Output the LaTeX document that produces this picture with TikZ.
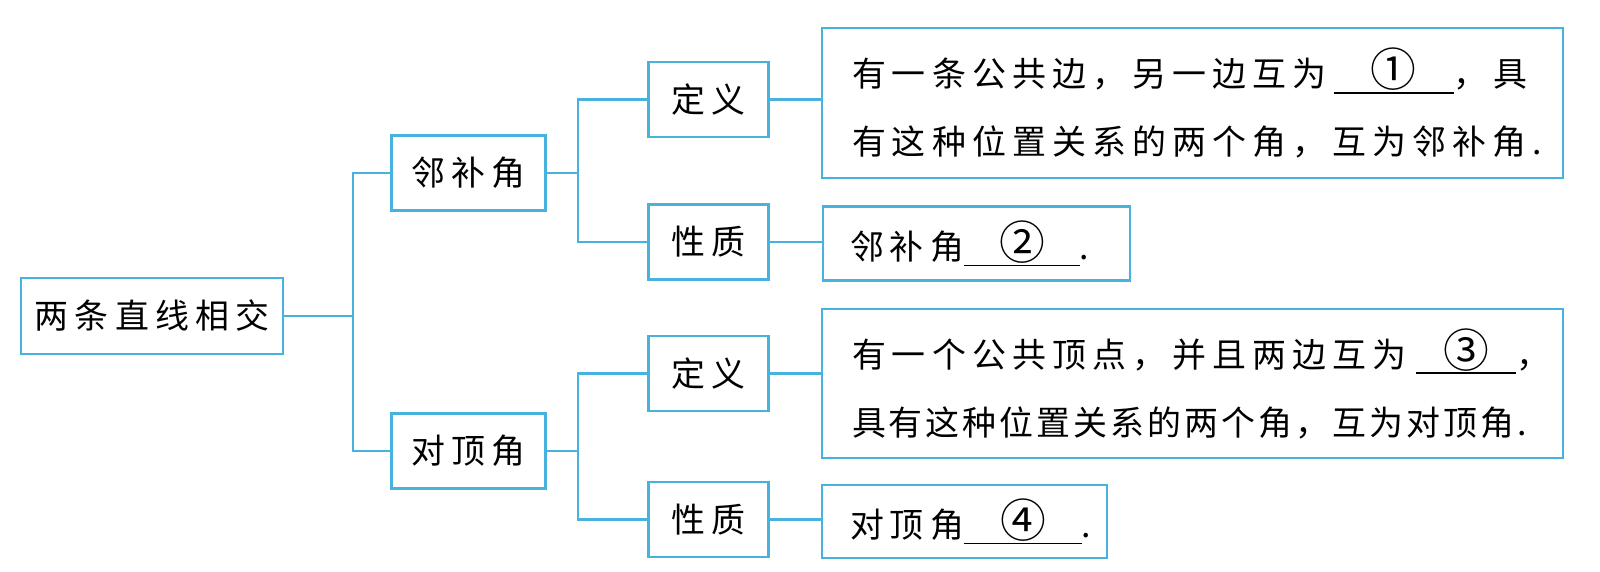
\documentclass[tikz,border=0pt]{standalone}
\usepackage{fontspec}
\newfontfamily\cjk[LetterSpace=18]{Noto Sans CJK SC}
\newfontfamily\cjknarrow[LetterSpace=9]{Noto Sans CJK SC}
\usetikzlibrary{positioning}
\definecolor{lineblue}{RGB}{72,178,222}
\tikzstyle{baseNode}=[draw=lineblue,line width=1.4pt,rectangle,inner sep=0pt,minimum height=1.5cm,font=\cjk\fontsize{19.3}{38.7}\selectfont]
\tikzstyle{textBox}=[baseNode,align=left,inner xsep=0.6cm]
\tikzstyle{branch}=[draw=lineblue,line width=1.4pt]
\newcommand{\blank}[2][2.4cm]{\rlap{\rule[-0.14cm]{#1}{0.9pt}}\makebox[#1]{\scalebox{1.35}{#2}}}

\begin{document}
\begin{tikzpicture}

    \useasboundingbox (0,0) rectangle (32,11.44);

    \node[baseNode,minimum width=5.24cm,minimum height=1.52cm] (root) at (3.04, 5.12) {两条直线相交};

    \node[baseNode,minimum width=3.08cm] (nb) at (9.37, 7.98) {邻补角};
    \node[baseNode,minimum width=3.08cm] (dd) at (9.37, 2.42) {对顶角};

    \node[baseNode,minimum width=2.4cm] (nbDef) at (14.17, 9.45) {定义};
    \node[baseNode,minimum width=2.4cm] (nbProp) at (14.17, 6.6) {性质};
    \node[baseNode,minimum width=2.4cm] (ddDef) at (14.17, 3.97) {定义};
    \node[baseNode,minimum width=2.4cm] (ddProp) at (14.17, 1.05) {性质};

    \node[textBox,text width=13.62cm,minimum height=3cm] (nbDefT) at (23.85, 9.38)
        {有一条公共边，另一边互为\kern0.15cm\blank{①}，具\\有这种位置关系的两个角，互为邻补角.};
    \node[textBox,text width=5.06cm,inner xsep=0.54cm,minimum height=1.48cm] (nbPropT) at (19.53, 6.57)
        {邻补角\blank[2.32cm]{②}.};
    \node[textBox,text width=13.62cm,minimum height=2.98cm] (ddDefT) at (23.85, 3.77)
        {有一个公共顶点，并且两边互为\kern0.2cm\blank[2cm]{③}，\\{\cjknarrow 具有这种位置关系的两个角，互为对顶角.}};
    \node[textBox,text width=4.58cm,inner xsep=0.56cm,minimum height=1.46cm] (ddPropT) at (19.29, 1.01)
        {对顶角\blank[2.36cm]{④}.};

    \draw[branch] (root.east) -- ++(1.38,0) |- (nb.west);
    \draw[branch] (root.east) -- ++(1.38,0) |- (dd.west);

    \draw[branch] (nb.east) -- ++(0.62,0) |- (nbDef.west);
    \draw[branch] (nb.east) -- ++(0.62,0) |- (nbProp.west);
    \draw[branch] (dd.east) -- ++(0.62,0) |- (ddDef.west);
    \draw[branch] (dd.east) -- ++(0.62,0) |- (ddProp.west);

    \draw[branch] (nbDef.east) -- (nbDef.east -| nbDefT.west);
    \draw[branch] (nbProp.east) -- (nbProp.east -| nbPropT.west);
    \draw[branch] (ddDef.east) -- (ddDef.east -| ddDefT.west);
    \draw[branch] (ddProp.east) -- (ddProp.east -| ddPropT.west);

\end{tikzpicture}
\end{document}
